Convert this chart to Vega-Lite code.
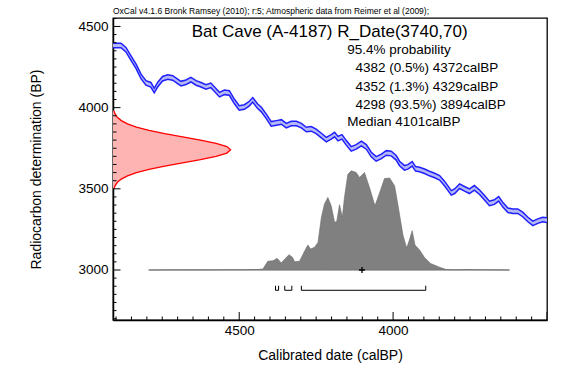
{
  "$schema": "https://vega.github.io/schema/vega-lite/v6.json",
  "width": 434,
  "height": 302,
  "autosize": {"type": "none"},
  "padding": {"left": 113, "top": 18, "right": 38, "bottom": 57},
  "background": "white",
  "config": {
    "view": {"stroke": "#000", "strokeWidth": 1.3},
    "font": "Liberation Sans"
  },
  "title": {
    "text": "OxCal v4.1.6 Bronk Ramsey (2010); r:5; Atmospheric data from Reimer et al (2009);",
    "anchor": "start",
    "frame": "group",
    "fontSize": 8.5,
    "fontWeight": "normal",
    "font": "Liberation Sans",
    "color": "#000",
    "offset": 3
  },
  "encoding": {
    "x": {
      "type": "quantitative",
      "scale": {"domain": [4910, 3500], "nice": false, "zero": false},
      "axis": {
        "title": "Calibrated date (calBP)",
        "values": [4000, 4500],
        "format": "d",
        "ticks": false,
        "domainColor": "#000", "domainWidth": 1.5,
        "grid": false,
        "labelFont": "Liberation Sans", "labelFontSize": 13.5, "labelColor": "#000",
        "labelPadding": 3,
        "titleFont": "Liberation Sans", "titleFontSize": 14, "titleFontWeight": "normal", "titleColor": "#000",
        "titlePadding": 12
      }
    },
    "y": {
      "type": "quantitative",
      "scale": {"domain": [2692, 4552], "nice": false, "zero": false},
      "axis": {
        "title": "Radiocarbon determination (BP)",
        "values": [3000, 3500, 4000, 4500],
        "format": "d",
        "ticks": false,
        "domainColor": "#000", "domainWidth": 1.5,
        "grid": false,
        "labelFont": "Liberation Sans", "labelFontSize": 13.5, "labelColor": "#000",
        "labelPadding": 5,
        "titleFont": "Liberation Sans", "titleFontSize": 14, "titleFontWeight": "normal", "titleColor": "#000",
        "titlePadding": 34
      }
    }
  },
  "datasets": {
    "xticks": [
      {"v": 3500}, {"v": 3550}, {"v": 3600}, {"v": 3650}, {"v": 3700}, {"v": 3750}, {"v": 3800}, {"v": 3850},
      {"v": 3900}, {"v": 3950}, {"v": 4000}, {"v": 4050}, {"v": 4100}, {"v": 4150}, {"v": 4200}, {"v": 4250},
      {"v": 4300}, {"v": 4350}, {"v": 4400}, {"v": 4450}, {"v": 4500}, {"v": 4550}, {"v": 4600}, {"v": 4650},
      {"v": 4700}, {"v": 4750}, {"v": 4800}, {"v": 4850}, {"v": 4900}
    ],
    "yticks": [
      {"v": 2700}, {"v": 2750}, {"v": 2800}, {"v": 2850}, {"v": 2900}, {"v": 2950}, {"v": 3000}, {"v": 3050},
      {"v": 3100}, {"v": 3150}, {"v": 3200}, {"v": 3250}, {"v": 3300}, {"v": 3350}, {"v": 3400}, {"v": 3450},
      {"v": 3500}, {"v": 3550}, {"v": 3600}, {"v": 3650}, {"v": 3700}, {"v": 3750}, {"v": 3800}, {"v": 3850},
      {"v": 3900}, {"v": 3950}, {"v": 4000}, {"v": 4050}, {"v": 4100}, {"v": 4150}, {"v": 4200}, {"v": 4250},
      {"v": 4300}, {"v": 4350}, {"v": 4400}, {"v": 4450}, {"v": 4500}, {"v": 4550}
    ],
    "curve": [
      {"cal": 4910, "bp": 4383}, {"cal": 4884, "bp": 4383}, {"cal": 4868, "bp": 4357}, {"cal": 4852, "bp": 4306},
      {"cal": 4835, "bp": 4254}, {"cal": 4819, "bp": 4192}, {"cal": 4803, "bp": 4152}, {"cal": 4787, "bp": 4141},
      {"cal": 4776, "bp": 4105}, {"cal": 4765, "bp": 4141}, {"cal": 4749, "bp": 4178}, {"cal": 4732, "bp": 4189},
      {"cal": 4716, "bp": 4183}, {"cal": 4700, "bp": 4162}, {"cal": 4689, "bp": 4148}, {"cal": 4673, "bp": 4156},
      {"cal": 4657, "bp": 4172}, {"cal": 4640, "bp": 4152}, {"cal": 4624, "bp": 4141}, {"cal": 4608, "bp": 4127},
      {"cal": 4592, "bp": 4137}, {"cal": 4581, "bp": 4115}, {"cal": 4564, "bp": 4080}, {"cal": 4548, "bp": 4094},
      {"cal": 4532, "bp": 4090}, {"cal": 4516, "bp": 4039}, {"cal": 4500, "bp": 3998}, {"cal": 4483, "bp": 4004},
      {"cal": 4467, "bp": 4025}, {"cal": 4456, "bp": 4048}, {"cal": 4440, "bp": 4008}, {"cal": 4428, "bp": 3988},
      {"cal": 4412, "bp": 3946}, {"cal": 4396, "bp": 3900}, {"cal": 4379, "bp": 3906}, {"cal": 4363, "bp": 3912},
      {"cal": 4347, "bp": 3889}, {"cal": 4331, "bp": 3902}, {"cal": 4314, "bp": 3902}, {"cal": 4298, "bp": 3889},
      {"cal": 4282, "bp": 3865}, {"cal": 4266, "bp": 3869}, {"cal": 4250, "bp": 3854}, {"cal": 4233, "bp": 3828},
      {"cal": 4217, "bp": 3803}, {"cal": 4201, "bp": 3820}, {"cal": 4190, "bp": 3834}, {"cal": 4179, "bp": 3809},
      {"cal": 4166, "bp": 3820}, {"cal": 4152, "bp": 3783}, {"cal": 4136, "bp": 3746}, {"cal": 4120, "bp": 3758},
      {"cal": 4103, "bp": 3779}, {"cal": 4087, "bp": 3758}, {"cal": 4071, "bp": 3711}, {"cal": 4055, "bp": 3684},
      {"cal": 4038, "bp": 3700}, {"cal": 4022, "bp": 3721}, {"cal": 4006, "bp": 3717}, {"cal": 3990, "bp": 3691},
      {"cal": 3979, "bp": 3656}, {"cal": 3963, "bp": 3629}, {"cal": 3952, "bp": 3635}, {"cal": 3938, "bp": 3654},
      {"cal": 3927, "bp": 3623}, {"cal": 3914, "bp": 3619}, {"cal": 3898, "bp": 3608}, {"cal": 3882, "bp": 3594},
      {"cal": 3865, "bp": 3582}, {"cal": 3849, "bp": 3568}, {"cal": 3833, "bp": 3533}, {"cal": 3811, "bp": 3475},
      {"cal": 3800, "bp": 3485}, {"cal": 3784, "bp": 3516}, {"cal": 3768, "bp": 3500}, {"cal": 3752, "bp": 3485},
      {"cal": 3736, "bp": 3506}, {"cal": 3719, "bp": 3479}, {"cal": 3703, "bp": 3445}, {"cal": 3687, "bp": 3410},
      {"cal": 3671, "bp": 3418}, {"cal": 3657, "bp": 3438}, {"cal": 3644, "bp": 3403}, {"cal": 3627, "bp": 3368},
      {"cal": 3611, "bp": 3362}, {"cal": 3595, "bp": 3362}, {"cal": 3579, "bp": 3342}, {"cal": 3562, "bp": 3311},
      {"cal": 3546, "bp": 3287}, {"cal": 3530, "bp": 3301}, {"cal": 3514, "bp": 3311}, {"cal": 3500, "bp": 3307}
    ],
    "c14": [
      {"bp": 3500, "cal": 4907}, {"bp": 3520, "cal": 4903}, {"bp": 3540, "cal": 4896}, {"bp": 3560, "cal": 4883},
      {"bp": 3580, "cal": 4863}, {"bp": 3600, "cal": 4834}, {"bp": 3620, "cal": 4793}, {"bp": 3640, "cal": 4742},
      {"bp": 3660, "cal": 4684}, {"bp": 3680, "cal": 4626}, {"bp": 3700, "cal": 4575}, {"bp": 3720, "cal": 4540},
      {"bp": 3740, "cal": 4528}, {"bp": 3760, "cal": 4540}, {"bp": 3780, "cal": 4575}, {"bp": 3800, "cal": 4626},
      {"bp": 3820, "cal": 4684}, {"bp": 3840, "cal": 4742}, {"bp": 3860, "cal": 4793}, {"bp": 3880, "cal": 4834},
      {"bp": 3900, "cal": 4863}, {"bp": 3920, "cal": 4883}, {"bp": 3940, "cal": 4896}, {"bp": 3960, "cal": 4903},
      {"bp": 3980, "cal": 4907}
    ],
    "post": [
      {"cal": 4794, "bp": 3000}, {"cal": 4700, "bp": 3001}, {"cal": 4600, "bp": 3001}, {"cal": 4500, "bp": 3002},
      {"cal": 4440, "bp": 3003}, {"cal": 4423, "bp": 3006}, {"cal": 4415, "bp": 3030}, {"cal": 4407, "bp": 3054},
      {"cal": 4390, "bp": 3057}, {"cal": 4377, "bp": 3072}, {"cal": 4363, "bp": 3043}, {"cal": 4352, "bp": 3068},
      {"cal": 4338, "bp": 3094}, {"cal": 4327, "bp": 3078}, {"cal": 4320, "bp": 3051}, {"cal": 4304, "bp": 3054},
      {"cal": 4291, "bp": 3103}, {"cal": 4277, "bp": 3154}, {"cal": 4268, "bp": 3129}, {"cal": 4255, "bp": 3140},
      {"cal": 4244, "bp": 3170}, {"cal": 4233, "bp": 3324}, {"cal": 4223, "bp": 3406}, {"cal": 4212, "bp": 3447},
      {"cal": 4201, "bp": 3395}, {"cal": 4190, "bp": 3293}, {"cal": 4183, "bp": 3300}, {"cal": 4174, "bp": 3402},
      {"cal": 4165, "bp": 3324}, {"cal": 4158, "bp": 3447}, {"cal": 4147, "bp": 3590}, {"cal": 4136, "bp": 3611},
      {"cal": 4120, "bp": 3601}, {"cal": 4109, "bp": 3570}, {"cal": 4093, "bp": 3601}, {"cal": 4076, "bp": 3504},
      {"cal": 4059, "bp": 3395}, {"cal": 4044, "bp": 3474}, {"cal": 4028, "bp": 3563}, {"cal": 4011, "bp": 3566},
      {"cal": 3995, "bp": 3518}, {"cal": 3982, "bp": 3375}, {"cal": 3968, "bp": 3215}, {"cal": 3956, "bp": 3135},
      {"cal": 3947, "bp": 3184}, {"cal": 3938, "bp": 3242}, {"cal": 3929, "bp": 3154}, {"cal": 3914, "bp": 3123},
      {"cal": 3898, "bp": 3077}, {"cal": 3878, "bp": 3040}, {"cal": 3849, "bp": 3017}, {"cal": 3827, "bp": 3003},
      {"cal": 3800, "bp": 3001}, {"cal": 3760, "bp": 3003}, {"cal": 3720, "bp": 3002}, {"cal": 3680, "bp": 3001},
      {"cal": 3622, "bp": 3000}
    ],
    "ranges": [
      {"from": 4382, "to": 4372}, {"from": 4352, "to": 4329}, {"from": 4298, "to": 3894}
    ],
    "info": [
      {"label": "95.4% probability", "cal": 4149, "bp": 4330},
      {"label": "4382 (0.5%) 4372calBP", "cal": 4122, "bp": 4217},
      {"label": "4352 (1.3%) 4329calBP", "cal": 4122, "bp": 4105},
      {"label": "4298 (93.5%) 3894calBP", "cal": 4122, "bp": 3992},
      {"label": "Median 4101calBP", "cal": 4149, "bp": 3889}
    ]
  },
  "layer": [
    {
      "data": {"name": "curve"},
      "transform": [{"calculate": "datum.bp - 14", "as": "lo"}, {"calculate": "datum.bp + 14", "as": "hi"}],
      "mark": {"type": "area", "color": "#b4b8f4", "clip": true},
      "encoding": {
        "x": {"field": "cal"},
        "y": {"field": "lo"},
        "y2": {"field": "hi"}
      }
    },
    {
      "data": {"name": "curve"},
      "transform": [{"calculate": "datum.bp - 14", "as": "lo"}],
      "mark": {"type": "line", "color": "#2020ff", "strokeWidth": 1.5, "clip": true},
      "encoding": {
        "x": {"field": "cal"},
        "y": {"field": "lo"}
      }
    },
    {
      "data": {"name": "curve"},
      "transform": [{"calculate": "datum.bp + 14", "as": "hi"}],
      "mark": {"type": "line", "color": "#2020ff", "strokeWidth": 1.5, "clip": true},
      "encoding": {
        "x": {"field": "cal"},
        "y": {"field": "hi"}
      }
    },
    {
      "data": {"name": "c14"},
      "mark": {"type": "area", "orient": "horizontal", "color": "#ffb4b4", "clip": true},
      "encoding": {
        "y": {"field": "bp"},
        "x": {"field": "cal"},
        "x2": {"datum": 4910}
      }
    },
    {
      "data": {"name": "c14"},
      "mark": {"type": "line", "color": "#ff0000", "strokeWidth": 1.3, "clip": true},
      "encoding": {
        "y": {"field": "bp"},
        "x": {"field": "cal"},
        "order": {"field": "bp"}
      }
    },
    {
      "data": {"name": "post"},
      "mark": {"type": "rule", "color": "#9a9a9a", "strokeWidth": 1},
      "transform": [{"filter": "datum.bp === 3000"}, {"aggregate": [{"op": "max", "field": "cal", "as": "c1"}, {"op": "min", "field": "cal", "as": "c2"}]}],
      "encoding": {
        "x": {"field": "c1"},
        "x2": {"field": "c2"},
        "y": {"datum": 3000}
      }
    },
    {
      "data": {"name": "post"},
      "mark": {"type": "area", "color": "#808080", "stroke": "#6a6a6a", "strokeWidth": 0.6, "clip": true},
      "encoding": {
        "x": {"field": "cal"},
        "y": {"field": "bp"},
        "y2": {"datum": 3000}
      }
    },
    {
      "data": {"values": [{"cal": 4101, "bp": 3000}]},
      "mark": {"type": "point", "shape": "M-1,0L1,0M0,-1L0,1", "size": 36, "stroke": "#000", "strokeWidth": 1.3, "filled": false, "opacity": 1},
      "encoding": {
        "x": {"field": "cal"},
        "y": {"field": "bp"}
      }
    },
    {
      "data": {"name": "ranges"},
      "mark": {"type": "rule", "color": "#000", "strokeWidth": 1},
      "encoding": {
        "x": {"field": "from"},
        "x2": {"field": "to"},
        "y": {"datum": 2875}
      }
    },
    {
      "data": {"name": "ranges"},
      "transform": [{"fold": ["from", "to"], "as": ["end", "val"]}],
      "mark": {"type": "rule", "color": "#000", "strokeWidth": 1},
      "encoding": {
        "x": {"field": "val"},
        "y": {"datum": 2875},
        "y2": {"datum": 2903}
      }
    },
    {
      "data": {"name": "xticks"},
      "mark": {"type": "tick", "orient": "vertical", "color": "#000", "thickness": 1, "opacity": 1, "clip": true},
      "encoding": {
        "x": {"field": "v"},
        "y": {"datum": 2692},
        "size": {"condition": {"test": "datum.v % 500 === 0", "value": 16}, "value": 7}
      }
    },
    {
      "data": {"name": "yticks"},
      "mark": {"type": "tick", "orient": "horizontal", "color": "#000", "thickness": 1, "opacity": 1, "clip": true},
      "encoding": {
        "y": {"field": "v"},
        "x": {"datum": 4910},
        "size": {"condition": {"test": "datum.v % 500 === 0", "value": 15}, "value": 7}
      }
    },
    {
      "data": {"values": [{"label": "Bat Cave (A-4187) R_Date(3740,70)", "cal": 4206, "bp": 4435}]},
      "mark": {"type": "text", "font": "Liberation Sans", "fontSize": 17, "align": "center", "baseline": "alphabetic", "color": "#000"},
      "encoding": {
        "x": {"field": "cal"},
        "y": {"field": "bp"},
        "text": {"field": "label"}
      }
    },
    {
      "data": {"name": "info"},
      "mark": {"type": "text", "font": "Liberation Sans", "fontSize": 13.5, "align": "left", "baseline": "alphabetic", "color": "#000"},
      "encoding": {
        "x": {"field": "cal"},
        "y": {"field": "bp"},
        "text": {"field": "label"}
      }
    }
  ]
}
